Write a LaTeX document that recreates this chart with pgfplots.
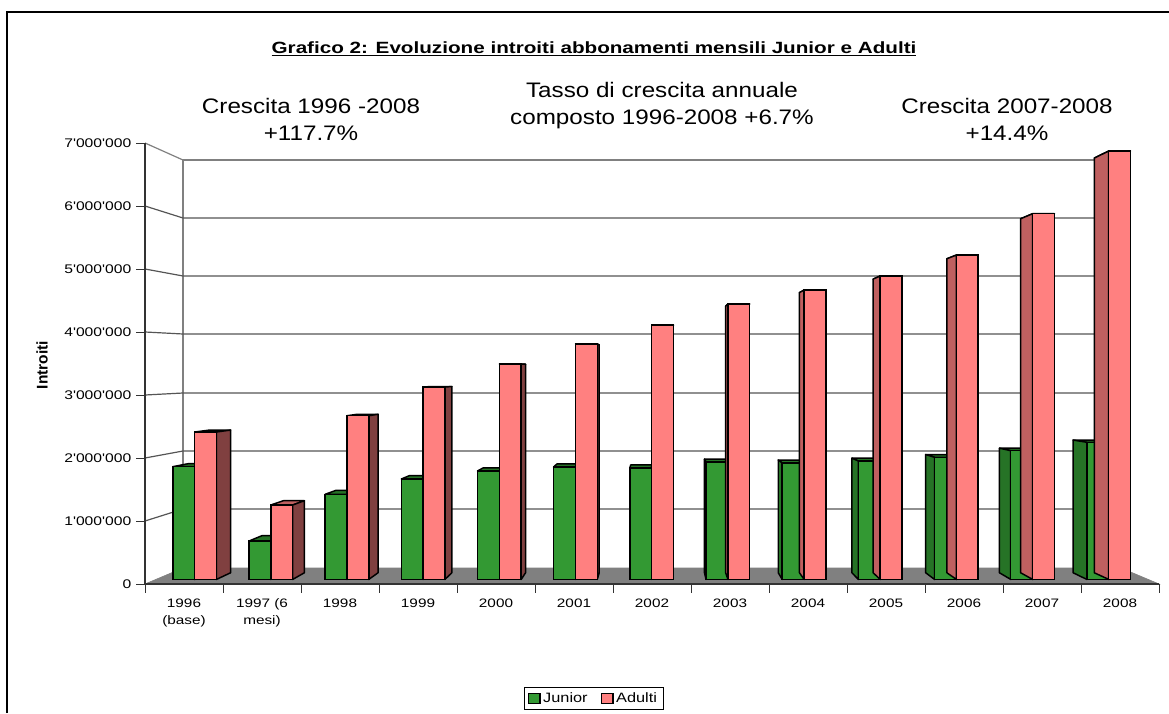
\documentclass[border=0pt]{standalone}
\usepackage{pgfplots}
\usepackage{pgfplotstable}
\usepackage{fontspec}
\pgfplotsset{compat=1.18}
\setmainfont{Liberation Sans}
\newfontfamily\lib{Liberation Sans}
\newfontfamily\titlef[FakeStretch=1.27]{Liberation Sans}
\newfontfamily\annf[FakeStretch=1.153]{Liberation Sans}
\newfontfamily\tickf[FakeStretch=1.25]{Liberation Sans}
\newfontfamily\legf[FakeStretch=1.2]{Liberation Sans}
\newcommand\thickul[1]{\leavevmode\vtop{\hbox{#1}\kern 1.1pt\hrule height 1pt}}
\newcommand\s{\vphantom{(}}
\definecolor{jfront}{RGB}{51,153,51}
\definecolor{jside}{RGB}{38,115,38}
\definecolor{afront}{RGB}{255,128,128}
\definecolor{aside}{RGB}{191,96,96}
\definecolor{adark}{RGB}{128,64,64}
\definecolor{gridc}{RGB}{85,85,85}
\definecolor{wallc}{RGB}{128,128,128}
% x positions are picture pixels of the bar centres; values in millions
\pgfplotstableread{
xj      junior  xa      adulti
183.7   1.827   205.6   2.389
259.9   0.622   281.8   1.206
336.0   1.379   357.9   2.653
412.2   1.627   434.1   3.118
488.4   1.757   510.3   3.491
564.5   1.822   586.4   3.815
640.7   1.806   662.6   4.123
716.9   1.903   738.8   4.463
793.1   1.887   815.0   4.690
869.2   1.919   891.1   4.917
945.4   1.979   967.3   5.257
1021.6  2.086   1043.5  5.927
1097.7  2.222   1119.6  6.943
}\bars
\newcommand\vx{658}
\newcommand\vv{3.3614}
\newcommand\rr{0.968}
\newcommand\bw{21.8}
% side and top faces of one series: #1 x column, #2 value column, #3 top colour, #4 colour of a right side, #5 colour of a left side
\newcommand\faces[5]{%
\pgfplotsforeachungrouped \i in {0,...,12}{%
 \pgfplotstablegetelem{\i}{#1}\of\bars \let\xc\pgfplotsretval
 \pgfplotstablegetelem{\i}{#2}\of\bars \let\val\pgfplotsretval
 \pgfmathsetmacro\xa{\xc-\bw/2}%
 \pgfmathsetmacro\xb{\xc+\bw/2}%
 \pgfmathsetmacro\xab{\vx+(\xa-\vx)*\rr}%
 \pgfmathsetmacro\xbb{\vx+(\xb-\vx)*\rr}%
 \pgfmathsetmacro\vb{\vv+(\val-\vv)*\rr}%
 \pgfmathsetmacro\zb{\vv+(0-\vv)*\rr}%
 \addplot[forget plot,fill=#3,draw=black,line width=1.1pt,line join=round] coordinates {(\xa,\val)(\xb,\val)(\xbb,\vb)(\xab,\vb)} --cycle;
 \ifdim\xb pt<\vx pt
  \addplot[forget plot,fill=#4,draw=black,line width=1.1pt,line join=round] coordinates {(\xb,0)(\xb,\val)(\xbb,\vb)(\xbb,\zb)} --cycle;
 \fi
 \ifdim\xa pt>\vx pt
  \addplot[forget plot,fill=#5,draw=black,line width=1.1pt,line join=round] coordinates {(\xa,0)(\xa,\val)(\xab,\vb)(\xab,\zb)} --cycle;
 \fi
}}
\begin{document}
\begin{tikzpicture}
\path[use as bounding box] (0,0) rectangle (876.75pt,534.75pt);
% frame, walls, floor and texts, in picture pixels
\begin{axis}[at={(0,0)},anchor=south west,scale only axis,width=876.75pt,height=534.75pt,
  xmin=0,xmax=1169,ymin=0,ymax=713,y dir=reverse,hide axis]
\addplot[black,line width=1.9pt] coordinates {(7,713)(7,12)(1169,12)};
\addplot[fill=wallc,draw=wallc,line width=0.5pt] coordinates {(145,584)(183,568)(1121,568)(1159,584)} --cycle;
\addplot[wallc,line width=1.1pt] coordinates {(183,568)(183,160)(1121,160)};
\addplot[wallc,line width=0.9pt] coordinates {(145,143)(183,160)};
\addplot[gridc,line width=0.9pt] coordinates {(145,206)(183,218)(1121,218)};
\addplot[gridc,line width=0.9pt] coordinates {(145,269)(183,276)(1121,276)};
\addplot[gridc,line width=0.9pt] coordinates {(145,332)(183,334)(1121,334)};
\addplot[gridc,line width=0.9pt] coordinates {(145,395)(183,393)(1121,393)};
\addplot[gridc,line width=0.9pt] coordinates {(145,458)(183,451)(1121,451)};
\addplot[gridc,line width=0.9pt] coordinates {(145,521)(183,509)(1121,509)};
\node[align=center,font=\annf\fontsize{15.75}{20}\selectfont] at (axis cs:311,119.5) {Crescita 1996 -2008\\+117.7\%};
\node[align=center,font=\annf\fontsize{15.75}{20}\selectfont] at (axis cs:662,105.5) {Tasso di crescita annuale\\composto 1996-2008 +6.7\%};
\node[align=center,font=\annf\fontsize{15.75}{20}\selectfont] at (axis cs:1007,119.5) {Crescita 2007-2008\\+14.4\%};
\end{axis}
% the value axis and the category axis
\begin{axis}[at={(108.75pt,96.75pt)},anchor=south west,scale only axis,width=760.5pt,height=330.75pt,
  xmin=0,xmax=13,ymin=0,ymax=7000000,
  axis x line=bottom,axis y line=left,
  axis line style={-,draw=black!80,line width=0.9pt},
  tick align=outside,
  ytick={0,1000000,2000000,3000000,4000000,5000000,6000000,7000000},
  yticklabels={0,1'000'000,2'000'000,3'000'000,4'000'000,5'000'000,6'000'000,7'000'000},
  scaled y ticks=false,
  xtick={0.5,1.5,...,12.5},
  xticklabels={{\s 1996\\(base)},{\s 1997 (6\\mesi)},\s 1998,\s 1999,\s 2000,\s 2001,\s 2002,\s 2003,\s 2004,\s 2005,\s 2006,\s 2007,\s 2008},
  minor xtick={0,1,...,13},
  major tick length=6.75pt,minor tick length=6.75pt,
  major x tick style={draw=none},
  minor x tick style={draw=black!80,line width=0.7pt},
  y tick style={draw=black!80,line width=0.7pt},
  xticklabel style={align=center,font=\tickf\fontsize{9.2}{12.75}\selectfont,yshift=-0.8pt},
  yticklabel style={font=\tickf\fontsize{9.4}{11}\selectfont},
  ylabel={\textbf{Introiti}},
  every axis y label/.style={at={(axis description cs:-0.1016,0.4966)},rotate=90,anchor=center,font=\fontsize{11.6}{13}\selectfont},
  title={\thickul{\titlef\bfseries Grafico 2: Evoluzione introiti abbonamenti mensili Junior e Adulti}},
  every axis title/.style={at={(axis description cs:0.4428,1.2132)},anchor=center,font=\fontsize{12.2}{14}\selectfont},
]
\addplot[draw=none,forget plot] coordinates {(0,0)};
\end{axis}
% the bars: x in picture pixels, y in millions, zero at the foot of the bars
\begin{axis}[at={(0,0)},anchor=south west,scale only axis,width=876.75pt,height=534.75pt,
  xmin=0,xmax=1169,ymin=-2.1653,ymax=9.3906,hide axis,clip=false,
  legend style={at={(0.508,0.0203)},anchor=center,draw=black,line width=0.7pt,fill=white,
    font=\legf\fontsize{10.2}{11}\selectfont,legend columns=2,inner xsep=2.5pt,inner ysep=2pt,
    /tikz/column 2/.style={column sep=8pt}},
  legend cell align=left,
  legend image code/.code={\draw[#1,line width=0.9pt,draw=black] (0pt,-3.5pt) rectangle (8.5pt,4pt);},
]
\faces{xj}{junior}{jside}{jside}{jside}
\addplot[ybar,bar width=\bw,bar shift=0pt,fill=jfront,draw=black,line width=1.1pt] table[x=xj,y=junior] {\bars};
\addlegendentry{Junior}
\faces{xa}{adulti}{aside}{adark}{aside}
\addplot[ybar,bar width=\bw,bar shift=0pt,fill=afront,draw=black,line width=1.1pt] table[x=xa,y=adulti] {\bars};
\addlegendentry{Adulti}
\end{axis}
\end{tikzpicture}
\end{document}
